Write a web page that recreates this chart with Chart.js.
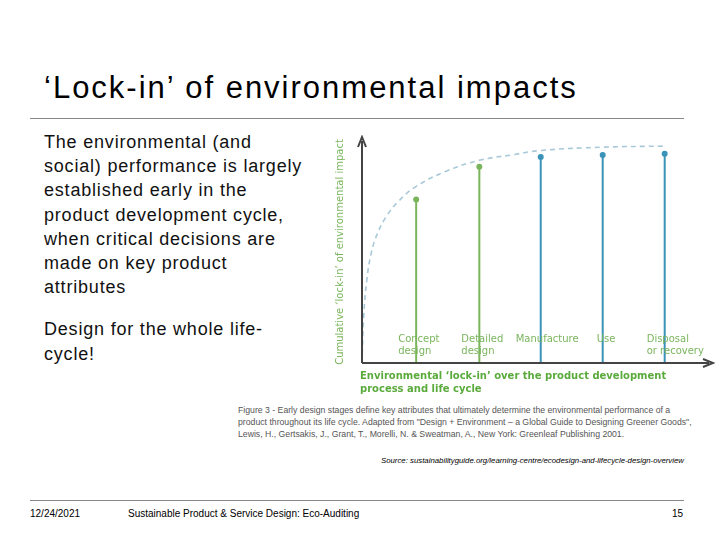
<!DOCTYPE html>
<html><head><meta charset="utf-8">
<script src="https://cdn.jsdelivr.net/npm/chart.js@4/dist/chart.umd.min.js"></script>
<style>
body{margin:0;width:720px;height:540px;background:#fff;font-family:"Liberation Sans",Arial,sans-serif;position:relative;overflow:hidden}
.abs{position:absolute;color:#000;white-space:nowrap}
#title{left:44px;top:70px;font-size:31px;letter-spacing:2px}
#rule1{left:30px;top:118px;width:654px;height:1px;background:#888}
#body{left:44px;top:130px;font-size:18px;line-height:24.2px;letter-spacing:0.8px;color:#111}
#cap{left:238px;top:404px;font-size:8.7px;line-height:12px;color:#555}
#src{left:381px;top:456px;font-size:7.8px;font-style:italic;color:#000}
#rule2{left:30px;top:500px;width:654px;height:1px;background:#888}
.foot{top:508px;font-size:10px}
#wrap{left:330px;top:135px;width:385px;height:265px}
</style></head><body>
<div class="abs" id="title">‘Lock-in’ of environmental impacts</div>
<div class="abs" id="rule1"></div>
<div class="abs" id="body">The environmental (and<br>social) performance is largely<br>established early in the<br>product development cycle,<br>when critical decisions are<br>made on key product<br>attributes<div style="height:18px"></div>Design for the whole life-<br>cycle!</div>
<div class="abs" id="wrap"><canvas id="c" width="385" height="265"></canvas></div>
<div class="abs" id="cap">Figure 3 - Early design stages define key attributes that ultimately determine the environmental performance of a<br>product throughout its life cycle. Adapted from "Design + Environment – a Global Guide to Designing Greener Goods",<br>Lewis, H., Gertsakis, J., Grant, T., Morelli, N. &amp; Sweatman, A., New York: Greenleaf Publishing 2001.</div>
<div class="abs" id="src">Source: sustainabilityguide.org/learning-centre/ecodesign-and-lifecycle-design-overview</div>
<div class="abs" id="rule2"></div>
<div class="abs foot" style="left:30px">12/24/2021</div>
<div class="abs foot" style="left:128px">Sustainable Product &amp; Service Design: Eco-Auditing</div>
<div class="abs foot" style="left:672px">15</div>
<script>
var stages = [["Concept","design"],["Detailed","design"],["Manufacture"],["Use"],["Disposal","or recovery"]];
var stageX = [0.9, 1.95, 2.97, 4.0, 5.03];
var stageY = [75, 90, 94.5, 95.4, 96];
var stageColors = ["#7ab55c","#7ab55c","#3a93b8","#3a93b8","#3a93b8"];
var labelShift = [-18, -18, -25, -6, -18];
var curveX = [0, 0.03, 0.08, 0.15, 0.25, 0.4, 0.6, 0.9, 1.4, 1.95, 2.5, 2.97, 4.0, 5.03];
var curveY = [0, 22, 38, 50, 59, 67, 74, 81, 88, 93, 95.5, 97.5, 99, 99.5];

var datasets = [{
    data: curveX.map(function(x, i){ return {x: x, y: curveY[i]}; }),
    borderColor: "#a9c9d9", borderWidth: 1.6, borderDash: [5, 4],
    pointRadius: 0, tension: 0.4, fill: false
}];
stageX.forEach(function(x, i){
    datasets.push({
        data: [{x: x, y: 0}, {x: x, y: stageY[i]}],
        borderColor: stageColors[i], backgroundColor: stageColors[i],
        borderWidth: 2, pointRadius: [0, 3], pointBorderWidth: 0
    });
});

var decor = {
    id: "decor",
    afterDraw: function(chart){
        var ctx = chart.ctx, a = chart.chartArea;
        var xs = chart.scales.x, ys = chart.scales.y;
        var ox = a.left, oy = ys.getPixelForValue(0);
        ctx.save();
        ctx.strokeStyle = "#444"; ctx.fillStyle = "#444"; ctx.lineWidth = 2;
        ctx.beginPath(); ctx.moveTo(ox, oy); ctx.lineTo(ox, a.top - 4); ctx.stroke();
        ctx.beginPath(); ctx.moveTo(ox, oy); ctx.lineTo(a.right + 4, oy); ctx.stroke();
        ctx.beginPath(); ctx.moveTo(ox - 4, a.top + 2); ctx.lineTo(ox, a.top - 8); ctx.lineTo(ox + 4, a.top + 2); ctx.stroke();
        ctx.beginPath(); ctx.moveTo(a.right - 2, oy - 4); ctx.lineTo(a.right + 8, oy); ctx.lineTo(a.right - 2, oy + 4); ctx.stroke();
        ctx.fillStyle = "#7ab55c";
        ctx.font = "10px 'DejaVu Sans'";
        ctx.textAlign = "left";
        stages.forEach(function(lines, i){
            var px = xs.getPixelForValue(stageX[i]);
            lines.forEach(function(t, j){ ctx.fillText(t, px + labelShift[i], oy - 21 + j * 12); });
        });
        ctx.translate(ox - 19, (oy + a.top) / 2 - 2);
        ctx.rotate(-Math.PI / 2);
        ctx.textAlign = "center";
        ctx.font = "10px 'DejaVu Sans'";
        ctx.fillText("Cumulative \u2018lock-in\u2019 of environmental impact", 0, 0);
        ctx.restore();
        ctx.save();
        ctx.fillStyle = "#5aaa3c";
        ctx.font = "bold 10px 'DejaVu Sans'";
        ctx.textAlign = "left";
        ctx.fillText("Environmental \u2018lock-in\u2019 over the product development", ox - 2, oy + 16);
        ctx.fillText("process and life cycle", ox - 2, oy + 29);
        ctx.restore();
    }
};

new Chart(document.getElementById("c").getContext("2d"), {
    type: "line",
    data: {datasets: datasets},
    options: {
        responsive: false, animation: false,
        layout: {padding: {left: 32, top: 10, right: 10, bottom: 37}},
        plugins: {legend: {display: false}, tooltip: {enabled: false}},
        scales: {
            x: {type: "linear", min: 0, max: 5.7, display: false},
            y: {min: 0, max: 100, display: false}
        }
    },
    plugins: [decor]
});
</script>
</body></html>
